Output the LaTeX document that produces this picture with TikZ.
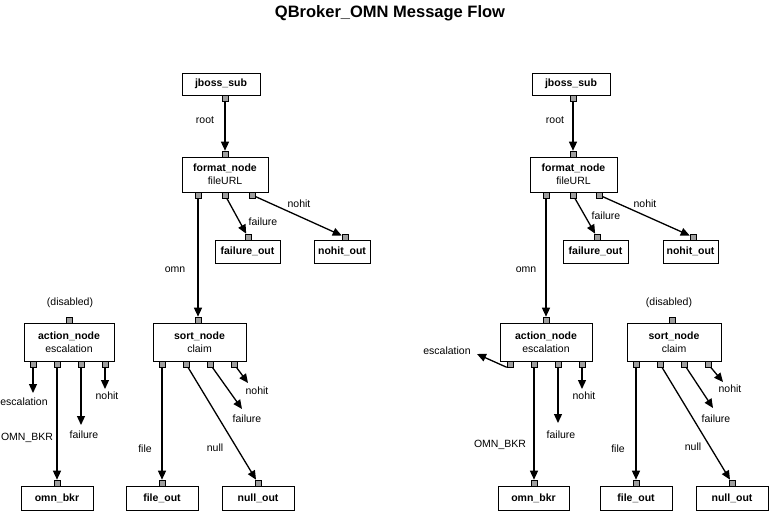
\documentclass[tikz,border=0pt]{standalone}
\usepackage{fontspec}
\setmainfont{Liberation Sans}
\usetikzlibrary{arrows.meta}
\begin{document}
\begin{tikzpicture}
[
    x=1pt, y=-1pt,
    font=\fontsize{10.5}{13}\selectfont,
    box/.style={draw, fill=white, inner sep=0pt, line width=0.8pt},
    onebox/.style={box, minimum height=23pt, font=\fontsize{10.5}{13}\selectfont\bfseries},
    twobox/.style={box, align=center},
    port/.style={draw, fill=gray!75, minimum size=6pt, inner sep=0pt, line width=0.6pt},
    flow/.style={line width=1.3pt, -{Triangle[length=9pt,width=8pt]}},
    lbl/.style={inner sep=0pt},
]
\useasboundingbox (0,0) rectangle (769,511);
\node[font=\fontsize{16.5}{19}\selectfont\bfseries, anchor=base] (title) at (390,18) {QBroker\_OMN Message Flow};

% left flow
\node[onebox, minimum width=78pt, minimum height=22pt] (jbA) at (221,84) {jboss\_sub};
\node[twobox, minimum width=86pt, minimum height=35pt] (fmtA) at (225,174.5) {\textbf{format\_node}\\fileURL};
\node[onebox, minimum width=65pt] (failA) at (247.5,251.5) {failure\_out};
\node[onebox, minimum width=56pt] (nohitA) at (342,251.5) {nohit\_out};
\node[twobox, minimum width=90pt, minimum height=38pt] (actA) at (69,342) {\textbf{action\_node}\\escalation};
\node[twobox, minimum width=93pt, minimum height=38pt] (sortA) at (199.5,342) {\textbf{sort\_node}\\claim};
\node[onebox, minimum width=72pt, minimum height=24pt] (omnA) at (57,498) {omn\_bkr};
\node[onebox, minimum width=72pt, minimum height=24pt] (fileA) at (162,498) {file\_out};
\node[onebox, minimum width=72pt, minimum height=24pt] (nullA) at (258,498) {null\_out};

\node[port] (jbAp) at (225,98) {};
\node[port] (fmtAt) at (225,154) {};
\foreach \i/\x in {1/198,2/225,3/252} \node[port] (fmtAp\i) at (\x,195) {};
\node[port] (failAt) at (248,237) {};
\node[port] (nohitAt) at (345,237) {};
\node[port] (actAt) at (69,320) {};
\foreach \i/\x in {1/33,2/57,3/81,4/105} \node[port] (actAp\i) at (\x,364) {};
\node[port] (sortAt) at (198,320) {};
\foreach \i/\x in {1/162,2/186,3/210,4/234} \node[port] (sortAp\i) at (\x,364) {};
\node[port] (omnAt) at (57,483) {};
\node[port] (fileAt) at (162,483) {};
\node[port] (nullAt) at (258,483) {};

\coordinate (actAe1) at (33,393);
\coordinate (actAe3) at (81,425);
\coordinate (actAe4) at (105,389);
\coordinate (sortAe3) at (242,409);
\coordinate (sortAe4) at (248,383);

\draw[flow] (jbAp) -- (fmtAt);
\draw[flow] (fmtAp1) -- (sortAt);
\draw[flow] (fmtAp2) -- (failAt);
\draw[flow] (fmtAp3) -- (nohitAt);
\draw[flow] (actAp1) -- (actAe1);
\draw[flow] (actAp2) -- (omnAt);
\draw[flow] (actAp3) -- (actAe3);
\draw[flow] (actAp4) -- (actAe4);
\draw[flow] (sortAp1) -- (fileAt);
\draw[flow] (sortAp2) -- (nullAt);
\draw[flow] (sortAp3) -- (sortAe3);
\draw[flow] (sortAp4) -- (sortAe4);

\node[lbl] (lrootA) at (205,120) {root};
\node[lbl] (lfailA) at (263,222) {failure};
\node[lbl] (lnohitA) at (299,204) {nohit};
\node[lbl] (lomnA) at (175,270) {omn};
\node[lbl] (ldisA) at (70,303) {(disabled)};
\node[lbl] (lescA) at (24,402) {escalation};
\node[lbl] (lbkrA) at (27,438) {OMN\_BKR};
\node[lbl] (lafailA) at (84,435) {failure};
\node[lbl] (lanohitA) at (107,396) {nohit};
\node[lbl] (lfileA) at (145,449) {file};
\node[lbl] (lnullA) at (215,448) {null};
\node[lbl] (lsfailA) at (247,419) {failure};
\node[lbl] (lsnohitA) at (257,391) {nohit};

% right flow
\node[onebox, minimum width=78pt, minimum height=22pt] (jbB) at (571,84) {jboss\_sub};
\node[twobox, minimum width=87pt, minimum height=35pt] (fmtB) at (573.5,174.5) {\textbf{format\_node}\\fileURL};
\node[onebox, minimum width=65pt] (failB) at (595.5,251.5) {failure\_out};
\node[onebox, minimum width=55pt] (nohitB) at (690.5,251.5) {nohit\_out};
\node[twobox, minimum width=92pt, minimum height=38pt] (actB) at (546,342) {\textbf{action\_node}\\escalation};
\node[twobox, minimum width=94pt, minimum height=38pt] (sortB) at (674,342) {\textbf{sort\_node}\\claim};
\node[onebox, minimum width=71pt, minimum height=24pt] (omnB) at (533.5,498) {omn\_bkr};
\node[onebox, minimum width=72pt, minimum height=24pt] (fileB) at (636,498) {file\_out};
\node[onebox, minimum width=72pt, minimum height=24pt] (nullB) at (732,498) {null\_out};

\node[port] (jbBp) at (573,98) {};
\node[port] (fmtBt) at (573,154) {};
\foreach \i/\x in {1/546,2/573,3/599} \node[port] (fmtBp\i) at (\x,195) {};
\node[port] (failBt) at (597,237) {};
\node[port] (nohitBt) at (693,237) {};
\node[port] (actBt) at (546,320) {};
\foreach \i/\x in {1/510,2/534,3/558,4/582} \node[port] (actBp\i) at (\x,364) {};
\node[port] (sortBt) at (672,320) {};
\foreach \i/\x in {1/636,2/660,3/684,4/708} \node[port] (sortBp\i) at (\x,364) {};
\node[port] (omnBt) at (534,483) {};
\node[port] (fileBt) at (636,483) {};
\node[port] (nullBt) at (732,483) {};

\coordinate (actBe1) at (477,354);
\coordinate (actBe3) at (558,423);
\coordinate (actBe4) at (582,389);
\coordinate (sortBe3) at (713,408);
\coordinate (sortBe4) at (723,382);

\draw[flow] (jbBp) -- (fmtBt);
\draw[flow] (fmtBp1) -- (actBt);
\draw[flow] (fmtBp2) -- (failBt);
\draw[flow] (fmtBp3) -- (nohitBt);
\draw[flow] (actBp1.south west) -- (actBe1);
\draw[flow] (actBp2) -- (omnBt);
\draw[flow] (actBp3) -- (actBe3);
\draw[flow] (actBp4) -- (actBe4);
\draw[flow] (sortBp1) -- (fileBt);
\draw[flow] (sortBp2) -- (nullBt);
\draw[flow] (sortBp3) -- (sortBe3);
\draw[flow] (sortBp4) -- (sortBe4);

\node[lbl] (lrootB) at (555,120) {root};
\node[lbl] (lfailB) at (606,216) {failure};
\node[lbl] (lnohitB) at (645,204) {nohit};
\node[lbl] (lomnB) at (526,270) {omn};
\node[lbl] (ldisB) at (669,303) {(disabled)};
\node[lbl] (lescB) at (447,351) {escalation};
\node[lbl] (lbkrB) at (500,445) {OMN\_BKR};
\node[lbl] (lafailB) at (561,435) {failure};
\node[lbl] (lanohitB) at (584,396) {nohit};
\node[lbl] (lfileB) at (618,449) {file};
\node[lbl] (lnullB) at (693,447) {null};
\node[lbl] (lsfailB) at (716,419) {failure};
\node[lbl] (lsnohitB) at (730,389) {nohit};
\end{tikzpicture}
\end{document}
